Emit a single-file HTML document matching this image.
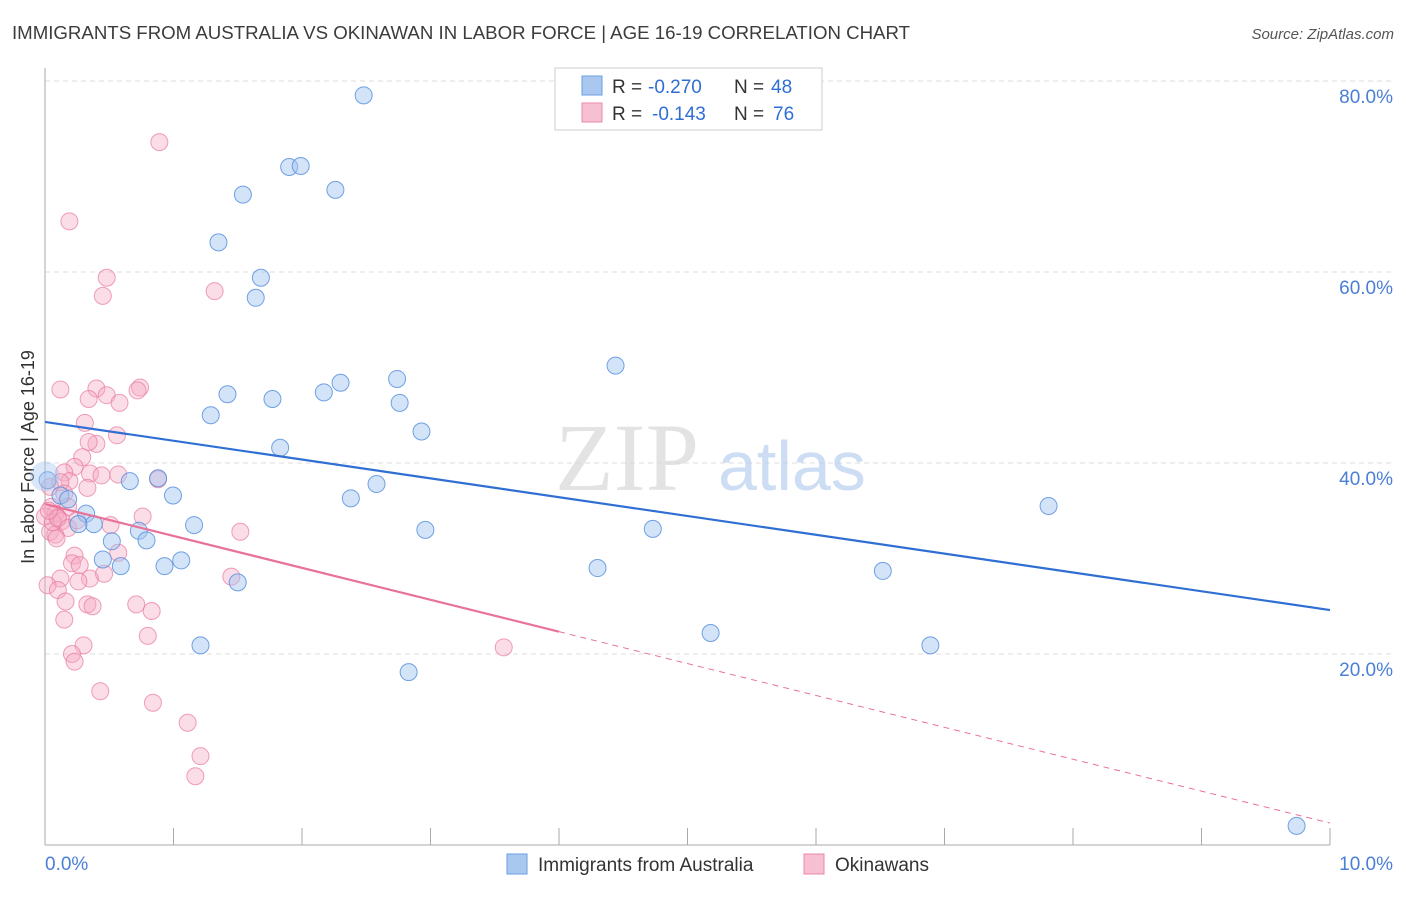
<!DOCTYPE html>
<html><head><meta charset="utf-8"><style>
body{margin:0;background:#fff;font-family:"Liberation Sans",sans-serif}
</style></head><body>
<svg id="chart" width="1406" height="892" viewBox="0 0 1406 892" xmlns="http://www.w3.org/2000/svg">
<text x="12" y="39" font-size="18.4" fill="#3c3c3c" textLength="898" lengthAdjust="spacingAndGlyphs">IMMIGRANTS FROM AUSTRALIA VS OKINAWAN IN LABOR FORCE | AGE 16-19 CORRELATION CHART</text>
<text x="1394" y="39" font-size="15" fill="#555" text-anchor="end" font-style="italic">Source: ZipAtlas.com</text>
<g id="grid"></g>
<text x="555" y="490" font-size="96" fill="#d8d8d8" font-family="Liberation Serif,serif" opacity="0.7">ZIP</text>
<text x="718" y="490" font-size="70" fill="#b9d0ee" opacity="0.7">atlas</text>
<text transform="translate(34,457) rotate(-90)" font-size="18" fill="#333" text-anchor="middle">In Labor Force | Age 16-19</text>
<g id="pts"></g>
<g id="lines"></g>
<g>
<rect x="555" y="68" width="267" height="62" fill="#fff" stroke="#ccc"/>
<rect x="582" y="76" width="20" height="19" fill="#a9c8f0" stroke="#6a9ee0"/>
<rect x="582" y="103" width="20" height="19" fill="#f7c0d2" stroke="#e88aa8"/>
<text x="612" y="93" font-size="19" fill="#333">R =</text>
<text x="648" y="93" font-size="19" fill="#2f6fd4">-0.270</text>
<text x="734" y="93" font-size="19" fill="#333">N =</text>
<text x="771" y="93" font-size="19" fill="#2f6fd4">48</text>
<text x="612" y="120" font-size="19" fill="#333">R =</text>
<text x="652" y="120" font-size="19" fill="#2f6fd4">-0.143</text>
<text x="734" y="120" font-size="19" fill="#333">N =</text>
<text x="773" y="120" font-size="19" fill="#2f6fd4">76</text>
</g>
<g>
<rect x="507" y="854" width="20" height="20" fill="#a9c8f0" stroke="#6a9ee0"/>
<text x="538" y="871" font-size="19" fill="#333">Immigrants from Australia</text>
<rect x="804" y="854" width="20" height="20" fill="#f7c0d2" stroke="#e88aa8"/>
<text x="835" y="871" font-size="19" fill="#333">Okinawans</text>
</g>
</svg>
<script>
const xTicks=[0,10];
const yTicks=[20,40,60,80];
const blueX=[2.48,1.90,1.99,2.26,1.54,1.35,1.68,1.64,4.44,2.74,2.30,1.42,2.17,1.77,2.76,1.29,2.93,1.83,7.81,2.58,2.38,0.66,0.88,0.996,0.02,0.12,0.18,0.32,0.38,0.26,1.16,0.73,0.79,0.52,2.96,4.73,0.45,0.59,1.06,0.93,4.30,6.52,1.50,5.18,1.21,6.89,2.83,9.74];
const blueY=[78.5,71.0,71.1,68.6,68.1,63.1,59.4,57.3,50.2,48.8,48.4,47.2,47.4,46.7,46.3,45.0,43.3,41.6,35.5,37.8,36.3,38.1,38.4,36.6,38.2,36.6,36.2,34.7,33.6,33.6,33.5,32.9,31.9,31.8,33.0,33.1,29.9,29.2,29.8,29.2,29.0,28.7,27.5,22.2,20.9,20.9,18.1,2.0];
const pinkX=[0.89,0.19,0.48,0.45,1.32,0.12,0.40,0.74,0.72,0.34,0.48,0.58,0.31,0.56,0.40,0.34,0.29,0.23,0.15,0.35,0.57,0.44,0.88,0.19,0.12,0.04,0.33,0.15,0.18,0.05,0.08,0.10,0,0.13,0.76,0.51,0.04,0.08,1.52,0.57,0.23,0.21,0.27,0.12,0.35,0.46,0.26,1.45,0.02,0.10,0.16,0.33,0.37,0.71,0.83,0.15,0.80,0.30,3.57,0.21,0.23,0.43,0.84,1.11,1.21,1.17,0.06,0.10,0.18,0.25,0.03,0.09];
const pinkY=[73.6,65.3,59.4,57.5,58.0,47.7,47.8,47.9,47.6,46.7,47.1,46.3,44.2,42.9,42.0,42.2,40.6,39.6,39.0,38.9,38.8,38.7,38.3,38.1,38.0,37.5,37.4,36.8,35.4,35.4,34.7,34.3,34.4,33.9,34.4,33.5,32.8,32.5,32.8,30.6,30.3,29.5,29.3,27.9,27.9,28.4,27.6,28.1,27.2,26.7,25.5,25.2,25.0,25.2,24.5,23.6,21.9,20.9,20.7,20.0,19.2,16.1,14.9,12.8,9.3,7.2,33.8,34.2,33.2,34.0,35.0,32.1];
const blueTrend=[44.3,24.6];
const pinkTrend=[35.7,2.3];
const pinkSolidEnd=4.0;
const X0=45,X1=1330,Y0=845,YPER=191/20;
const sx=v=>X0+(v/10)*(X1-X0);
const sy=v=>Y0-v*YPER;
const NS='http://www.w3.org/2000/svg';
function mk(tag,attrs,parent){const e=document.createElementNS(NS,tag);for(const k in attrs)e.setAttribute(k,attrs[k]);parent.appendChild(e);return e;}
const grid=document.getElementById('grid');
for(const t of yTicks){
 const l=mk('line',{x1:X0,x2:1394,y1:sy(t),y2:sy(t),stroke:'#ddd','stroke-dasharray':'5,4'},grid);
 
 
 const tx=mk('text',{x:1393,y:sy(t)+22,'font-size':19,fill:'#4a7fd6','text-anchor':'end'},grid);
 tx.textContent=t.toFixed(1)+'%';
 
 
}
const ax=mk('line',{x1:X0,x2:X0,y1:68,y2:Y0,stroke:'#aaa'},grid);


const bx=mk('line',{x1:X0,x2:X1,y1:Y0,y2:Y0,stroke:'#aaa'},grid);


for(let i=0;i<=10;i++){
 const t=mk('line',{x1:sx(i),x2:sx(i),y1:828,y2:Y0,stroke:'#aaa'},grid);
 
 
}
xTicks.forEach((t,i)=>{
 const tx=mk('text',{x:i==0?45:1393,y:870,'font-size':19,fill:'#4a7fd6','text-anchor':i==0?'start':'end'},grid);
 tx.textContent=t.toFixed(1)+'%';
 
 
});
const pts=document.getElementById('pts');
pinkX.forEach((x,i)=>{
 const c=mk('circle',{cx:sx(x),cy:sy(pinkY[i]),r:8.5,fill:'rgba(245,170,195,0.4)',stroke:'rgba(232,120,160,0.7)','stroke-width':1},pts);
 
 
});
blueX.forEach((x,i)=>{
 const c=mk('circle',{cx:sx(x),cy:sy(blueY[i]),r:8.5,fill:'rgba(160,195,240,0.45)',stroke:'rgba(80,140,220,0.8)','stroke-width':1},pts);
 
 
});
const big=mk('circle',{cx:sx(0),cy:sy(38.6),r:15,fill:'rgba(160,195,240,0.4)',stroke:'none'},pts);


const lines=document.getElementById('lines');
const bl=mk('line',{x1:sx(0),y1:sy(blueTrend[0]),x2:sx(10),y2:sy(blueTrend[1]),stroke:'#2f6fd4','stroke-width':2.2},lines);


const pv=x=>pinkTrend[0]+(pinkTrend[1]-pinkTrend[0])*x/10;
const pl=mk('line',{x1:sx(0),y1:sy(pv(0)),x2:sx(pinkSolidEnd),y2:sy(pv(pinkSolidEnd)),stroke:'#e8729a','stroke-width':2.2},lines);


const pd=mk('line',{x1:sx(pinkSolidEnd),y1:sy(pv(pinkSolidEnd)),x2:sx(10),y2:sy(pv(10)),stroke:'#e8729a','stroke-width':1,'stroke-dasharray':'6,5'},lines);


</script>
</body></html>
